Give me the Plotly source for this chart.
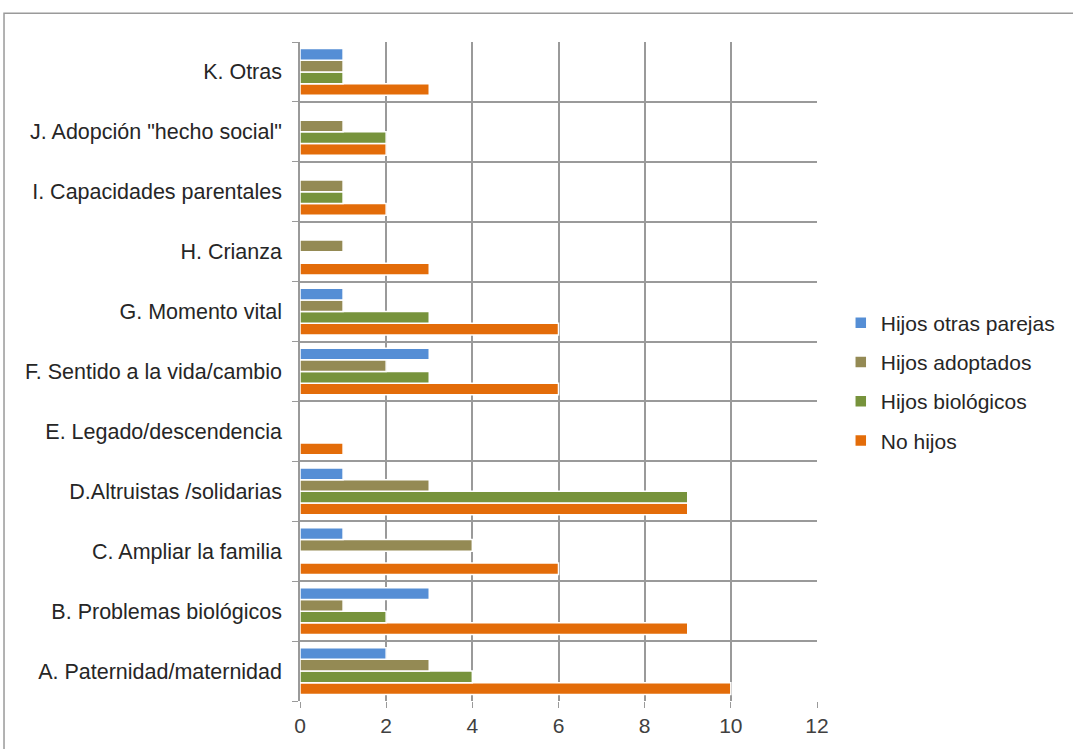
import plotly.graph_objs as go

categorias = ['A. Paternidad/maternidad', 'B. Problemas biológicos', 'C. Ampliar la familia',
              'D.Altruistas /solidarias', 'E. Legado/descendencia', 'F. Sentido a la vida/cambio',
              'G. Momento vital', 'H. Crianza', 'I. Capacidades parentales',
              'J. Adopción "hecho social"', 'K. Otras']

no_hijos = [10, 9, 6, 9, 1, 6, 6, 3, 2, 2, 3]
hijos_biologicos = [4, 2, 0, 9, 0, 3, 3, 0, 1, 2, 1]
hijos_adoptados = [3, 1, 4, 3, 0, 2, 1, 1, 1, 1, 1]
hijos_otras_parejas = [2, 3, 1, 1, 0, 3, 1, 0, 0, 0, 1]

series = [('No hijos', no_hijos, '#E36C09'),
          ('Hijos biológicos', hijos_biologicos, '#77933C'),
          ('Hijos adoptados', hijos_adoptados, '#948A54'),
          ('Hijos otras parejas', hijos_otras_parejas, '#558ED5')]

data = []
for i, (nombre, valores, color) in enumerate(series):
    data.append(go.Bar(y=categorias, x=valores, name=nombre, orientation='h', legendgroup=nombre,
                       legendrank=len(series) - i,
                       marker=dict(color=color, line=dict(color='white', width=1.5))))

layout = go.Layout(
    width=1073, height=749,
    margin=dict(l=300, r=256, t=42, b=44),
    paper_bgcolor='white', plot_bgcolor='white',
    font=dict(family='Liberation Sans, Arial', size=21.5, color='#262626'),
    barmode='group', bargap=0.22, bargroupgap=0,
    xaxis=dict(range=[0, 12], dtick=2, showgrid=True, gridcolor='#9a9a9a', gridwidth=1.5,
               zeroline=False, ticks='outside', ticklen=6, tickcolor='#9a9a9a',
               tickfont=dict(size=21, color='#404040'), fixedrange=True),
    yaxis=dict(type='category', tickson='boundaries', showgrid=True, gridcolor='#9a9a9a',
               gridwidth=1.5, ticks='outside', ticklen=6, tickcolor='#9a9a9a',
               showline=True, linecolor='#9a9a9a', linewidth=1.5,
               tickfont=dict(size=21.5, color='#262626'), ticksuffix='  '),
    legend=dict(x=1.046, y=0.484, xanchor='left', yanchor='middle', traceorder='grouped',
                font=dict(size=21, color='#262626'), itemwidth=30, tracegroupgap=9),
    shapes=[dict(type='rect', xref='paper', yref='paper', x0=-0.5725, x1=1.7, y0=-0.2, y1=1.0437,
                 line=dict(color='#9a9a9a', width=1.5), fillcolor='rgba(0,0,0,0)', layer='below')]
)

fig = go.Figure(data=data, layout=layout)
fig.write_html('out.html', config={'displayModeBar': False},
               post_script="document.body.style.margin='0px';")
